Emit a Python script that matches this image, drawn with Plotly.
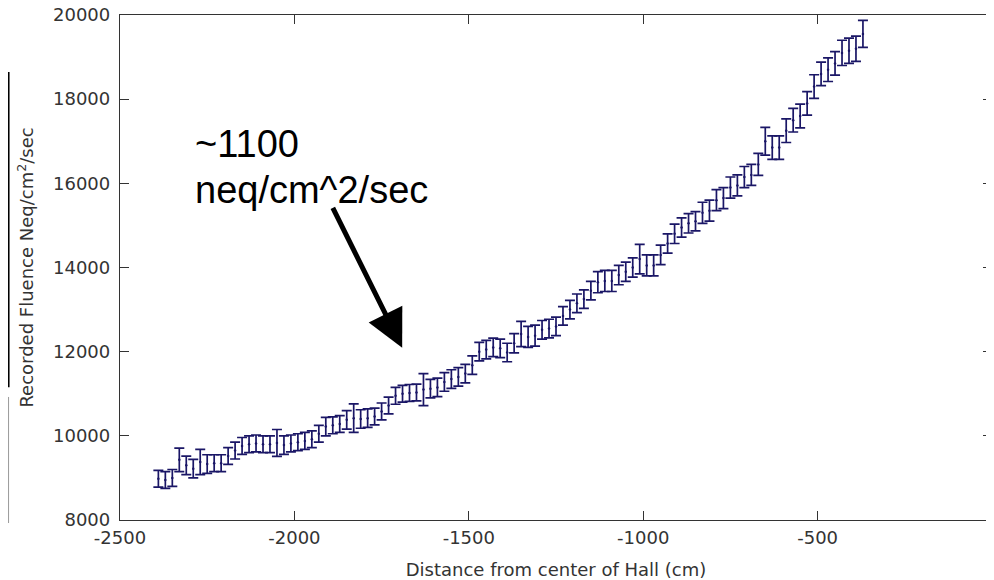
import plotly.graph_objects as go

# ---- data ----
distance_cm = list(range(-2390, -369, 20))  # 102 positions

fluence = [
    8980, 8950, 9000, 9430, 9300, 9220, 9380, 9330, 9350, 9350,
    9520, 9650, 9760, 9800, 9820, 9800, 9800, 9830, 9780, 9820,
    9850, 9880, 9920, 10050, 10220, 10250, 10280, 10380, 10420, 10400,
    10420, 10460, 10580, 10720, 10950, 11000, 11020, 11030, 11100, 11120,
    11150, 11280, 11350, 11400, 11480, 11680, 12000, 12050, 12100, 12080,
    11980, 12200, 12420, 12350, 12380, 12520, 12550, 12600, 12850, 13000,
    13150, 13250, 13450, 13650, 13680, 13680, 13820, 13900, 14000, 14200,
    14050, 14050, 14300, 14570, 14800, 14950, 15050, 15100, 15300, 15350,
    15600, 15650, 15900, 15950, 16150, 16200, 16450, 17000, 16850, 16850,
    17250, 17500, 17600, 17900, 18300, 18600, 18700, 18850, 19100, 19150,
    19200, 19550,
]

fluence_err = [
    200, 200, 200, 280, 220, 220, 300, 220, 200, 200,
    200, 200, 200, 200, 200, 200, 200, 320, 220, 200,
    200, 200, 200, 200, 220, 200, 200, 220, 340, 220,
    220, 200, 200, 200, 200, 200, 200, 200, 380, 220,
    220, 220, 220, 220, 220, 220, 220, 220, 220, 220,
    220, 230, 300, 250, 250, 220, 220, 220, 220, 220,
    220, 220, 220, 250, 250, 250, 230, 230, 230, 350,
    250, 250, 230, 230, 230, 230, 230, 230, 250, 250,
    250, 250, 250, 250, 250, 250, 260, 330, 280, 280,
    280, 280, 280, 280, 280, 280, 280, 280, 300, 300,
    300, 320,
]

x_tick_vals = [-2500, -2000, -1500, -1000, -500, 0]
x_tick_text = ["-2500", "-2000", "-1500", "-1000", "-500", "0"]
y_tick_vals = [8000, 10000, 12000, 14000, 16000, 18000, 20000]
y_tick_text = ["8000", "10000", "12000", "14000", "16000", "18000", "20000"]

note_line1 = "~1100"
note_line2 = "neq/cm^2/sec"

# annotation anchor positions (in axis units)
NOTE_X = -2290
NOTE_Y1 = 16930
NOTE_Y2 = 15830
ARROW_TIP = (-1691, 12095)
ARROW_TAIL = (-1892, 15452)

BAR_COLOR = "#1a1666"
AXIS_COLOR = "#333333"
FONT = "DejaVu Sans"

fig = go.Figure()
fig.add_trace(
    go.Scatter(
        x=distance_cm,
        y=fluence,
        mode="markers",
        marker=dict(size=2.5, color=BAR_COLOR),
        error_y=dict(
            type="data",
            array=fluence_err,
            visible=True,
            color=BAR_COLOR,
            thickness=1.7,
            width=5,
        ),
        showlegend=False,
    )
)

axis_common = dict(
    showline=True,
    linecolor=AXIS_COLOR,
    linewidth=1.3,
    mirror="allticks",
    ticks="inside",
    ticklen=9,
    tickwidth=1.2,
    tickcolor=AXIS_COLOR,
    showgrid=False,
    zeroline=False,
    automargin=False,
    ticklabeloverflow="allow",
    tickfont=dict(family=FONT, size=18, color="#333333"),
)

fig.update_xaxes(
    range=[-2500, 0],
    tickmode="array",
    tickvals=x_tick_vals,
    ticktext=x_tick_text,
    ticklabelstandoff=1,
    title=dict(
        text="Distance from center of Hall (cm)",
        font=dict(family=FONT, size=18, color="#333333"),
        standoff=16,
    ),
    **axis_common,
)
fig.update_yaxes(
    range=[8000, 20000],
    tickmode="array",
    tickvals=y_tick_vals,
    ticktext=y_tick_text,
    ticklabelstandoff=5,
    title=dict(
        text="Recorded Fluence Neq/cm<sup>2</sup>/sec",
        font=dict(family=FONT, size=18, color="#333333"),
        standoff=14,
    ),
    **axis_common,
)

fig.add_annotation(
    x=NOTE_X, y=NOTE_Y1, xref="x", yref="y",
    text=note_line1, showarrow=False, xanchor="left", yanchor="middle",
    font=dict(family="Liberation Sans", size=38, color="#000000"),
)
fig.add_annotation(
    x=NOTE_X, y=NOTE_Y2, xref="x", yref="y",
    text=note_line2, showarrow=False, xanchor="left", yanchor="middle",
    font=dict(family="Liberation Sans", size=38, color="#000000"),
)
fig.add_annotation(
    x=ARROW_TIP[0], y=ARROW_TIP[1], xref="x", yref="y",
    ax=ARROW_TAIL[0], ay=ARROW_TAIL[1], axref="x", ayref="y",
    text="", showarrow=True, arrowhead=2, arrowsize=1.5, arrowwidth=5,
    arrowcolor="#000000",
)

# slide-border remnants at the far left edge
fig.add_shape(type="line", xref="paper", yref="paper",
              x0=-0.1278, x1=-0.1278, y0=0.887, y1=0.263,
              line=dict(color="#000000", width=2))
fig.add_shape(type="line", xref="paper", yref="paper",
              x0=-0.1278, x1=-0.1278, y0=0.2436, y1=-0.006,
              line=dict(color="#9a9a9a", width=1))

# the page body adds an 8px offset; plot area is placed to land at
# page pixels x 120..992, y 15..520
fig.update_layout(
    width=986,
    height=572,
    margin=dict(l=112, r=2, t=7, b=60),
    paper_bgcolor="white",
    plot_bgcolor="white",
    font=dict(family=FONT, color="#333333"),
)

fig.write_html("out.html")
